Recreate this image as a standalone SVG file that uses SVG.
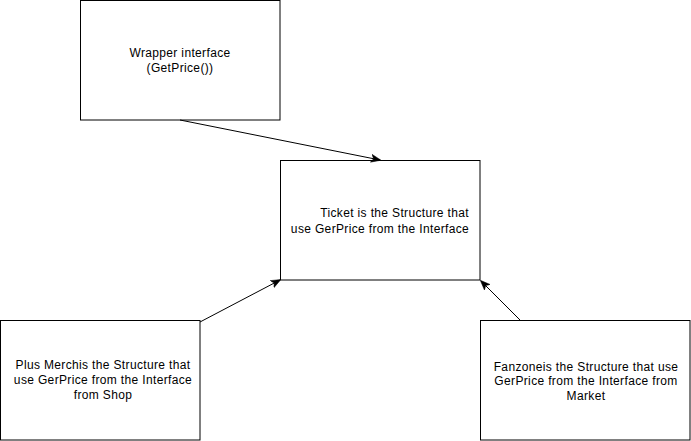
<svg xmlns="http://www.w3.org/2000/svg" width="691" height="441" viewBox="0 0 691 441">
<style>
.box{fill:#fff;stroke:#000;stroke-width:1}
.t{font-family:"Liberation Sans",Arial,sans-serif;font-size:12px;letter-spacing:0.35px;fill:#000;text-anchor:middle}
.e{stroke:#000;stroke-width:1;fill:none}
</style>
<defs>
<marker id="arr" viewBox="0 0 10 10" refX="9" refY="5" markerWidth="10" markerHeight="10" markerUnits="userSpaceOnUse" orient="auto">
<path d="M0,1 L10,5 L0,9 L2.5,5 Z" fill="#000" stroke="#000" stroke-width="0.5"/>
</marker>
</defs>
<rect width="691" height="441" fill="#fff"/>
<g id="wrapper">
<rect class="box" x="80.5" y="0.5" width="199.5" height="119.5"/>
<text class="t" x="180" y="57">Wrapper interface</text>
<text class="t" x="180" y="72">(GetPrice())</text>
</g>
<g id="ticket">
<rect class="box" x="280.5" y="160.5" width="199.5" height="119.5"/>
<text class="t" x="469" y="217" style="text-anchor:end">Ticket is the Structure that</text>
<text class="t" x="380" y="233">use GerPrice from the Interface</text>
</g>
<g id="plusmerch">
<rect class="box" x="0.5" y="320.5" width="199.5" height="119.5"/>
<text class="t" x="103" y="369">Plus Merchis the Structure that</text>
<text class="t" x="103" y="384">use GerPrice from the Interface</text>
<text class="t" x="103" y="399">from Shop</text>
</g>
<g id="fanzone">
<rect class="box" x="480.5" y="320.5" width="209.5" height="119.5"/>
<text class="t" x="586" y="371">Fanzoneis the Structure that use</text>
<text class="t" x="586" y="385">GerPrice from the Interface from</text>
<text class="t" x="586" y="400">Market</text>
</g>
<g id="connectors">
<line class="e" x1="180" y1="120" x2="380" y2="160" marker-end="url(#arr)"/>
<line class="e" x1="200" y1="322" x2="280" y2="280" marker-end="url(#arr)"/>
<line class="e" x1="520" y1="320" x2="481" y2="281" marker-end="url(#arr)"/>
</g>
</svg>
